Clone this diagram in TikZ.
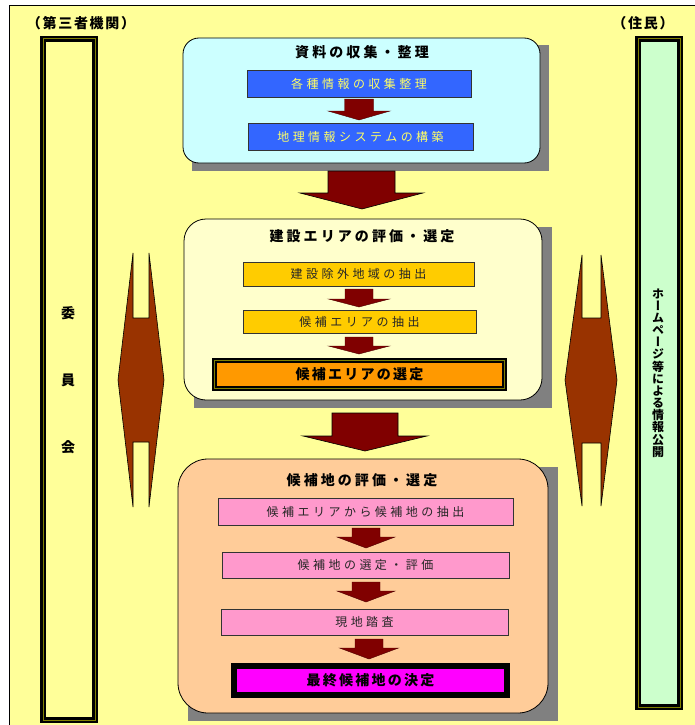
\documentclass[tikz,border=0pt]{standalone}
\usepackage{fontspec}
\newfontfamily\jpbox[LetterSpace=29]{Noto Sans CJK JP}
\newfontfamily\jptitle[LetterSpace=22]{Noto Sans CJK JP}
\newfontfamily\jpsel[LetterSpace=16]{Noto Sans CJK JP}
\newfontfamily\jplab[LetterSpace=12]{Noto Sans CJK JP}
\newfontfamily\jpvert[RawFeature=+vert]{Noto Sans CJK JP}
\definecolor{bgY}{HTML}{FFFF99}
\definecolor{boxC}{HTML}{CCFFFF}
\definecolor{boxY}{HTML}{FFFFCC}
\definecolor{boxP}{HTML}{FFCC99}
\definecolor{blueB}{HTML}{3366FF}
\definecolor{blueT}{HTML}{FFFF66}
\definecolor{goldB}{HTML}{FFCC00}
\definecolor{orangeB}{HTML}{FF9900}
\definecolor{pinkB}{HTML}{FF99CC}
\definecolor{magB}{HTML}{FF00FF}
\definecolor{darkR}{HTML}{800000}
\definecolor{brownA}{HTML}{993300}
\definecolor{shadowG}{HTML}{808080}
\definecolor{greenC}{HTML}{CCFFCC}
\definecolor{oliveL}{HTML}{808000}
\newcommand\bkarrow[6]{% cx, shaft top, head top, tip, shaft half, head half
  \filldraw[smallarrow] ({#1-#5},#2) -- ({#1+#5},#2) -- ({#1+#5},#3) -- ({#1+#6},#3)
    -- (#1,#4) -- ({#1-#6},#3) -- ({#1-#5},#3) -- cycle;}
\newcommand\dblarrow[9]{% xl, xpl, xpr, xr, ytop, yn1, ymid, yn2, ybot
  \filldraw[twoway] (#2,#5) -- (#2,#6) -- (#3,#6) -- (#3,#5) -- (#4,#7) -- (#3,#9)
    -- (#3,#8) -- (#2,#8) -- (#2,#9) -- (#1,#7) -- cycle;}
\begin{document}
\begin{tikzpicture}[x=1pt,y=-1pt,
  stage/.style={draw=black, line width=0.8pt, inner sep=0pt, outer sep=0pt},
  stepbox/.style={draw=black!80, line width=0.7pt, inner sep=0pt, outer sep=0pt,
     font=\jpbox\fontsize{12}{14}\selectfont, text=black!85},
  titletext/.style={inner sep=0pt, font=\jptitle\bfseries\fontsize{14}{16}\selectfont},
  selbox/.style={draw=black, double=oliveL, double distance=1pt, line width=2pt,
     inner sep=0pt, outer sep=0pt, font=\jpsel\bfseries\fontsize{14}{16}\selectfont},
  column/.style={draw=black, double=oliveL, double distance=1pt, line width=2.5pt},
  smallarrow/.style={fill=darkR, draw=darkR!60!black, line width=0.4pt},
  bigarrow/.style={fill=darkR, draw=black, line width=0.6pt},
  twoway/.style={fill=brownA, draw=black, line width=0.6pt},
  sidelabel/.style={inner sep=0pt, font=\jplab\bfseries\fontsize{14}{16}\selectfont}]
\useasboundingbox (0,0) rectangle (695,725);
% background
\fill[bgY] (9,6) rectangle (695,725);
\draw[line width=1pt] (9,725) -- (9,6) -- (695,6);
% side columns
\filldraw[column, fill=bgY] (43,39) rectangle (95,720);
\filldraw[column, fill=greenC] (638,39) rectangle (680,707);
\node[sidelabel] (lab3) at (81,23) {（第三者機関）};
\node[sidelabel] (labR) at (643,23) {（住民）};
\node[sidelabel] (c1) at (68,313) {委};
\node[sidelabel] (c2) at (68,380) {員};
\node[sidelabel] (c3) at (68,447) {会};
\node[inner sep=0pt, align=center, font=\jpvert\bfseries\fontsize{12}{12.15}\selectfont] (vt) at (658,373)
  {ホ\\ー\\ム\\ペ\\ー\\ジ\\等\\に\\よ\\る\\情\\報\\公\\開};
% two-way arrows
\dblarrow{118}{133}{149}{164}{253}{318}{380}{442}{507}
\dblarrow{565}{582}{601}{617}{255}{318}{380}{443}{506}
% shadows
\fill[shadowG] (192,45) rectangle (549,171);
\fill[shadowG] (194,227) rectangle (552,408);
\fill[shadowG] (188,467) rectangle (558,721);
% stage boxes
\node[stage, fill=boxC, rounded corners=16pt, minimum width=357pt, minimum height=125pt] (s1) at (361.5,100.5) {};
\node[stage, fill=boxY, rounded corners=22pt, minimum width=358pt, minimum height=181pt] (s2) at (363,309.5) {};
\node[stage, fill=boxP, rounded corners=30pt, minimum width=370pt, minimum height=254pt] (s3) at (363,586) {};
% titles
\node[titletext] (t1) at (362,52) {資料の収集・整理};
\node[titletext] (t2) at (362,236) {建設エリアの評価・選定};
\node[titletext] (t3) at (362,480) {候補地の評価・選定};
% stage 1
\node[stepbox, fill=blueB, text=blueT, minimum width=224pt, minimum height=27pt] (b1) at (359,83.5) {各種情報の収集整理};
\node[stepbox, fill=blueB, text=blueT, minimum width=225pt, minimum height=27pt] (b2) at (360.5,136.5) {地理情報システムの構築};
\bkarrow{359}{99}{111}{120}{14.5}{31}
% big arrow 1
\filldraw[bigarrow] (328,171) -- (395,171) -- (395,193) -- (423,193) -- (362,209) -- (300,193) -- (328,193) -- cycle;
% stage 2
\node[stepbox, fill=goldB, minimum width=231pt, minimum height=24pt] (g1) at (358.5,274) {建設除外地域の抽出};
\bkarrow{359}{289}{299}{307}{14}{30.5}
\node[stepbox, fill=goldB, minimum width=233pt, minimum height=23pt] (g2) at (359.5,321.5) {候補エリアの抽出};
\bkarrow{359}{337}{346}{354}{14}{30.5}
\node[selbox, fill=orangeB, minimum width=290pt, minimum height=28pt] (o1) at (359.5,374.5) {候補エリアの選定};
% big arrow 2
\filldraw[bigarrow] (332,413) -- (398,413) -- (398,436) -- (427,436) -- (365,451) -- (303,436) -- (332,436) -- cycle;
% stage 3
\node[stepbox, fill=pinkB, minimum width=295pt, minimum height=27pt] (p1) at (365.5,511.5) {候補エリアから候補地の抽出};
\bkarrow{366}{528}{537}{548}{14}{29}
\node[stepbox, fill=pinkB, minimum width=287pt, minimum height=26pt] (p2) at (365.5,565) {候補地の選定・評価};
\bkarrow{366}{582}{591}{602}{14}{29}
\node[stepbox, fill=pinkB, minimum width=287pt, minimum height=26pt] (p3) at (364.5,622) {現地踏査};
\bkarrow{369}{639}{648}{659}{14}{29.5}
\node[draw=black, line width=6pt, fill=magB, inner sep=0pt, outer sep=0pt, minimum width=273pt, minimum height=29pt,
  font=\jpsel\bfseries\fontsize{14}{16}\selectfont] (m1) at (370.5,680.5) {最終候補地の決定};
\end{tikzpicture}
\end{document}
